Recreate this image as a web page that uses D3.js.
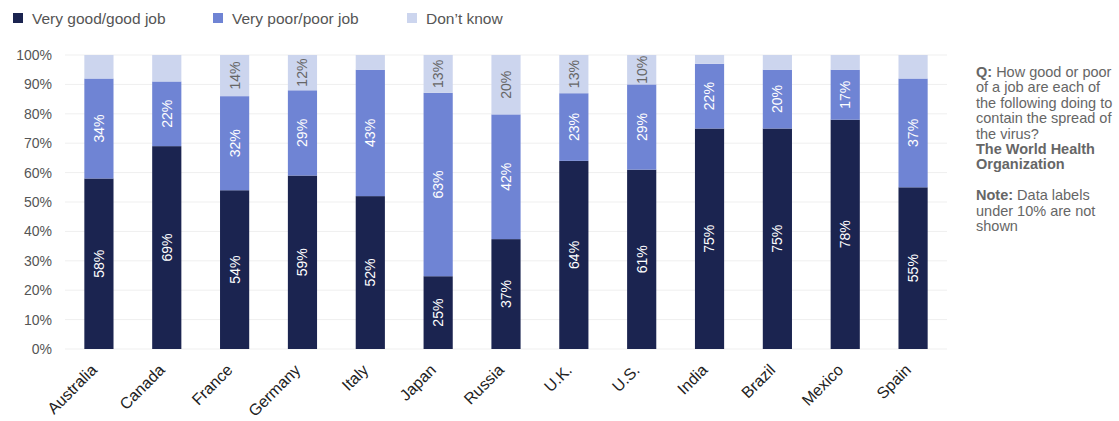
<!DOCTYPE html>
<html>
<head>
<meta charset="utf-8">
<script src="https://cdn.jsdelivr.net/npm/d3@7"></script>
<style>
  body { margin: 0; background: #fff; font-family: "Liberation Sans", Arial, sans-serif; }
</style>
</head>
<body>
<div id="chart"></div>
<script>
const countries = ["Australia", "Canada", "France", "Germany", "Italy", "Japan", "Russia", "U.K.", "U.S.", "India", "Brazil", "Mexico", "Spain"];
const goodJob = [58, 69, 54, 59, 52, 25, 37, 64, 61, 75, 75, 78, 55];
const poorJob = [34, 22, 32, 29, 43, 63, 42, 23, 29, 22, 20, 17, 37];
const dontKnow = [8, 9, 14, 12, 5, 13, 20, 13, 10, 3, 5, 5, 8];
const seriesNames = ["Very good/good job", "Very poor/poor job", "Don\u2019t know"];
const yTicks = [0, 0.1, 0.2, 0.3, 0.4, 0.5, 0.6, 0.7, 0.8, 0.9, 1];

const colors = ["#1b2450", "#6f84d4", "#ccd5ee"];
const labelColors = ["#fff", "#fff", "#666"];

const W = 1119, H = 421;
const svg = d3.select("#chart").append("svg").attr("width", W).attr("height", H);

const rows = countries.map((c, i) => ({ country: c, s0: goodJob[i], s1: poorJob[i], s2: dontKnow[i] }));
const stack = d3.stack().keys(["s0", "s1", "s2"]).offset(d3.stackOffsetExpand);
const layers = stack(rows);

const x = d3.scaleBand().domain(countries).range([65, 947]).paddingInner(0.57).paddingOuter(0.285);
const y = d3.scaleLinear().domain([0, 1]).range([349, 55]);

// grid
svg.append("g").selectAll("line").data(yTicks).join("line")
  .attr("x1", 65).attr("x2", 947)
  .attr("y1", d => y(d)).attr("y2", d => y(d))
  .attr("stroke", "#efefef").attr("stroke-width", 1);

// y axis labels
const yAxis = svg.append("g").attr("transform", "translate(52,0)")
  .call(d3.axisLeft(y).tickValues(yTicks).tickFormat(d3.format(".0%")).tickSize(0).tickPadding(0));
yAxis.select(".domain").remove();
yAxis.selectAll("text").attr("fill", "#555").style("font-size", "14px")
  .style("font-family", "'Liberation Sans', Arial, sans-serif");

// bars
layers.forEach((layer, k) => {
  const g = svg.append("g");
  g.selectAll("rect").data(layer).join("rect")
    .attr("x", d => x(d.data.country))
    .attr("width", x.bandwidth())
    .attr("y", d => y(d[1]))
    .attr("height", d => y(d[0]) - y(d[1]))
    .attr("fill", colors[k]);

  g.selectAll("text").data(layer.filter(d => d.data[layer.key] >= 10)).join("text")
    .attr("transform", d => `translate(${x(d.data.country) + x.bandwidth() / 2},${(y(d[0]) + y(d[1])) / 2}) rotate(-90)`)
    .attr("text-anchor", "middle")
    .attr("dy", "0.35em")
    .attr("fill", labelColors[k])
    .style("font-size", "14px")
    .text(d => d.data[layer.key] + "%");
});

// x axis labels
const xAxis = svg.append("g").attr("transform", "translate(0,349)")
  .call(d3.axisBottom(x).tickSize(0).tickPadding(0));
xAxis.select(".domain").remove();
xAxis.selectAll("text")
  .attr("transform", "translate(-1,22) rotate(-45)")
  .attr("text-anchor", "end")
  .attr("dy", "0")
  .attr("fill", "#222")
  .style("font-size", "16px")
  .style("font-family", "'Liberation Sans', Arial, sans-serif");

// legend
const legendX = [13, 213, 407];
const legend = svg.append("g");
seriesNames.forEach((name, i) => {
  legend.append("rect").attr("x", legendX[i]).attr("y", 13).attr("width", 10).attr("height", 10).attr("fill", colors[i]);
  legend.append("text").attr("x", legendX[i] + 19).attr("y", 24)
    .attr("fill", "#555").style("font-size", "15.5px").text(name);
});

// note
const noteLines = [
  [["Q:", true], [" How good or poor", false]],
  [["of a job are each of", false]],
  [["the following doing to", false]],
  [["contain the spread of", false]],
  [["the virus?", false]],
  [["The World Health", true]],
  [["Organization", true]],
  [],
  [["Note:", true], [" Data labels", false]],
  [["under 10% are not", false]],
  [["shown", false]]
];
const note = svg.append("text").attr("fill", "#666").style("font-size", "14.5px");
noteLines.forEach((parts, i) => {
  const line = note.append("tspan").attr("x", 976).attr("y", 77 + i * 15.4);
  if (!parts.length) line.text(" ");
  parts.forEach(([t, bold], j) => {
    const ts = j === 0 ? line : note.append("tspan");
    ts.text(t).style("font-weight", bold ? "bold" : "normal");
  });
});
</script>
</body>
</html>
